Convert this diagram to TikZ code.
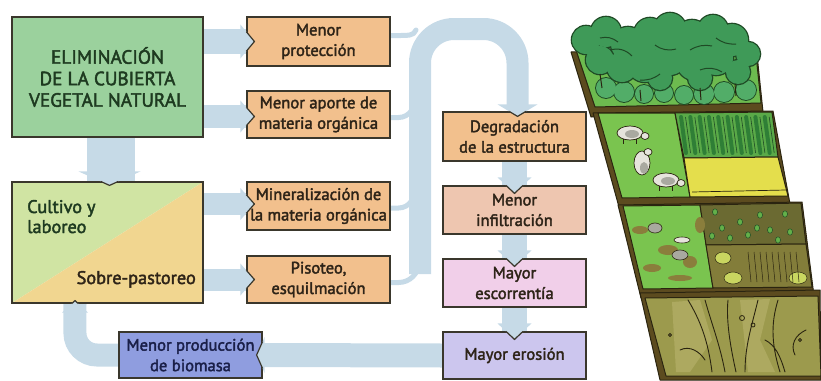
\documentclass[tikz,border=0pt]{standalone}
\usepackage{fontspec}
\setmainfont{PT Sans}[FakeBold=2.2]
\usetikzlibrary{calc}
\pgfdeclarelayer{bands}
\pgfsetlayers{bands,main}

\definecolor{arrowc}{HTML}{C6DAE7}
\definecolor{boxline}{HTML}{3A372C}
\definecolor{elimg}{HTML}{9BD19D}
\definecolor{orng}{HTML}{F2C08D}
\definecolor{cultg}{HTML}{D0E4A3}
\definecolor{culty}{HTML}{F1D690}
\definecolor{infilc}{HTML}{EEC6B0}
\definecolor{escorc}{HTML}{F1CFE9}
\definecolor{erosc}{HTML}{CCC6EE}
\definecolor{biomc}{HTML}{8F9DDF}
\definecolor{txtg}{HTML}{1E3A20}
\definecolor{txtb}{HTML}{2E2418}
\definecolor{txtn}{HTML}{1A1F48}
% landscape colours
\definecolor{soil}{HTML}{5C4B1F}
\definecolor{ink}{HTML}{2A2410}
\definecolor{forestfloor}{HTML}{6DBB4F}
\definecolor{treefill}{HTML}{3F9A58}
\definecolor{treelight}{HTML}{52AD68}
\definecolor{treeline}{HTML}{1F4A25}
\definecolor{pasture}{HTML}{7AC44F}
\definecolor{croprow}{HTML}{2F7F36}
\definecolor{cropbase}{HTML}{5AAA48}
\definecolor{wheat}{HTML}{E4DE4C}
\definecolor{patch}{HTML}{8A7E3C}
\definecolor{darkplot}{HTML}{6B6A32}
\definecolor{dots}{HTML}{63B04A}
\definecolor{dryplot}{HTML}{837D3A}
\definecolor{tuft}{HTML}{C9D660}
\definecolor{eroded}{HTML}{9C9A4D}
\definecolor{erodedlight}{HTML}{ADA960}
\definecolor{animal}{HTML}{E6E4DC}
\definecolor{animalgrey}{HTML}{A9A9A0}

% arrow heads that notch into a box edge
\newcommand{\headdown}[5]{% anchor, xshift, half width, gap, depth
  \pgfmathsetmacro{\hdc}{#3*#5/(#4+#5)}
  \fill[arrowc] ($(#1)+(#2-#3,-#4)$) -- ($(#1)+(#2+#3,-#4)$) -- ($(#1)+(#2,#5)$) -- cycle;
  \draw[notchline] ($(#1)+(#2-\hdc,0)$) -- ($(#1)+(#2,#5)$) -- ($(#1)+(#2+\hdc,0)$);
}
\newcommand{\headup}[5]{%
  \pgfmathsetmacro{\hdc}{#3*#5/(#4+#5)}
  \fill[arrowc] ($(#1)+(#2-#3,#4)$) -- ($(#1)+(#2+#3,#4)$) -- ($(#1)+(#2,-#5)$) -- cycle;
  \draw[notchline] ($(#1)+(#2-\hdc,0)$) -- ($(#1)+(#2,-#5)$) -- ($(#1)+(#2+\hdc,0)$);
}
\newcommand{\headright}[5]{% anchor, yshift, half height, gap, depth
  \pgfmathsetmacro{\hdc}{#3*#5/(#4+#5)}
  \fill[arrowc] ($(#1)+(-#4,#2-#3)$) -- ($(#1)+(-#4,#2+#3)$) -- ($(#1)+(#5,#2)$) -- cycle;
  \draw[notchline] ($(#1)+(0,#2-\hdc)$) -- ($(#1)+(#5,#2)$) -- ($(#1)+(0,#2+\hdc)$);
}
\newcommand{\headleft}[5]{%
  \pgfmathsetmacro{\hdc}{#3*#5/(#4+#5)}
  \fill[arrowc] ($(#1)+(#4,#2-#3)$) -- ($(#1)+(#4,#2+#3)$) -- ($(#1)+(-#5,#2)$) -- cycle;
  \draw[notchline] ($(#1)+(0,#2-\hdc)$) -- ($(#1)+(-#5,#2)$) -- ($(#1)+(0,#2+\hdc)$);
}

\begin{document}
\begin{tikzpicture}[x=1pt,y=-1pt,
  box/.style={draw=boxline, line width=1.2pt, inner sep=0pt, align=center,
    text=txtb, font=\fontsize{16.6}{20.5}\selectfont},
  band/.style={draw=arrowc, line width=#1},
  notchline/.style={draw=boxline, line width=1.2pt, line join=miter},
  thinband/.style={draw=arrowc, line width=5pt, line cap=round},
  outline/.style={draw=ink, line width=1pt, line join=round}]

\path[use as bounding box] (0,0) rectangle (821,380);

% ---------------- boxes ----------------
\node[box, fill=elimg, text=txtg, minimum width=191pt, minimum height=120pt,
      font=\fontsize{19.2}{21.5}\selectfont] (elim) at (107.5,77)
      {ELIMINACIÓN\\DE LA CUBIERTA\\VEGETAL NATURAL};

\fill[cultg] (12,182) -- (203,182) -- (12,303) -- cycle;
\fill[culty] (203,182) -- (203,303) -- (12,303) -- cycle;
\node[box, minimum width=191pt, minimum height=121pt] (cult) at (107.5,242.5) {};
\node[anchor=base west, text=txtg, inner sep=0pt,
      font=\fontsize{18.3}{20}\selectfont] (cultA) at (27,213) {Cultivo y};
\node[anchor=base west, text=txtg, inner sep=0pt,
      font=\fontsize{18.3}{20}\selectfont] (cultB) at (27,233) {laboreo};
\node[anchor=base east, text=txtb, inner sep=0pt,
      font=\fontsize{18.3}{20}\selectfont] (cultC) at (196,284) {Sobre-pastoreo};

\node[box, fill=orng, minimum width=143pt, minimum height=49pt] (prot) at (318.5,41.5) {Menor\\protección};
\node[box, fill=orng, minimum width=143pt, minimum height=47pt] (aporte) at (318.5,114.5) {Menor aporte de\\materia orgánica};
\node[box, fill=orng, minimum width=143pt, minimum height=48pt] (miner) at (318.5,206) {Mineralización de\\la materia orgánica};
\node[box, fill=orng, minimum width=143pt, minimum height=47pt] (piso) at (318.5,279.5) {Pisoteo,\\esquilmación};

\node[box, fill=orng, minimum width=143pt, minimum height=49pt] (degr) at (514.5,136.5) {Degradación\\de la estructura};
\node[box, fill=infilc, minimum width=143pt, minimum height=48pt] (infil) at (514.5,210) {Menor\\infiltración};
\node[box, fill=escorc, minimum width=143pt, minimum height=48pt] (escor) at (514.5,283) {Mayor\\escorrentía};
\node[box, fill=erosc, minimum width=143pt, minimum height=47pt] (eros) at (514.5,355.5) {Mayor erosión};
\node[box, fill=biomc, text=txtn, minimum width=143pt, minimum height=46pt] (biom) at (190.5,355) {Menor producción\\de biomasa};

% routing points of the broad arrows
\coordinate (retcorner) at ($(biom.west)+(-43.5,0)$);
\coordinate (retend) at ($(cult.south)+(-32.5,0)$);
\coordinate (loopfoot) at (420,274);
\coordinate (looptop) at (420,29);
\coordinate (loopdrop) at ($(degr.north)+(3,-6)$);

% ---------------- broad arrows ----------------
\begin{pgfonlayer}{bands}
  \draw[band=25pt] (elim.east |- prot.west) -- (prot.west);
  \draw[band=23pt] ($(elim.east |- aporte.west)+(0,2)$) -- ($(aporte.west)+(0,2)$);
  \draw[band=22pt] ($(cult.east |- miner.west)+(0,-2)$) -- ($(miner.west)+(0,-2)$);
  \draw[band=22pt] (cult.east |- piso.west) -- (piso.west);
  \draw[band=48pt] ($(elim.south)+(3,0)$) -- ($(cult.north)+(3,0)$);
  \draw[band=25pt] (degr.south) -- (infil.north);
  \draw[band=25pt] (infil.south) -- (escor.north);
  \draw[band=25pt] (escor.south) -- (eros.north);
  \draw[band=24pt] (eros.west) -- (biom.east);
  \draw[band=23pt, rounded corners=22pt] (biom.west) -- (retcorner) -- (retend);
  % collecting loop towards the soil structure
  \draw[band=22pt, rounded corners=34pt] (loopfoot) -- (looptop) -- (loopdrop |- looptop) -- (loopdrop);
  \draw[thinband] ($(prot.east)+(0,-6)$) -- ++(10,0) to[out=0,in=-110] (416,30);
  \draw[thinband] ($(aporte.east)+(0,3)$) -- ++(8,0) to[out=0,in=-90] (416,96);
  \draw[thinband] ($(miner.east)+(0,2)$) -- ++(8,0) to[out=0,in=-90] (416,186);
  \draw[thinband] ($(piso.east)+(0,3)$) -- ++(8,0) to[out=0,in=-90] (419,262);
\end{pgfonlayer}

% heads notching into the boxes
\headright{prot.west}{0}{17}{6}{8}
\headright{aporte.west}{2}{16}{6}{8}
\headright{miner.west}{-2}{16}{6}{8}
\headright{piso.west}{0}{16}{6}{8}
\headdown{cult.north}{2}{31}{10}{4}
\headdown{degr.north}{3}{20}{7}{5}
\headdown{infil.north}{0}{17}{8}{8}
\headdown{escor.north}{0}{17}{8}{8}
\headdown{eros.north}{0}{17}{8}{8}
\headleft{biom.east}{0}{18}{2}{6}
\headup{cult.south}{-32.5}{13}{9}{3}

% ---------------- terraced hillside ----------------
% terrace 1: forest
\filldraw[outline, fill=soil] (571,52) -- (756,45) -- (763,112) -- (591,117) -- cycle;
\filldraw[outline, fill=forestfloor] (576,50) -- (755,45) -- (761,103) -- (595,107) -- cycle;
\foreach \x/\y/\r in {606/88/10,624/92/10,644/94/9,664/93/9,684/95/9,704/94/10,724/92/10,746/90/10}
  \draw[treeline, line width=1.8pt] (\x,\y) circle (\r pt);
\foreach \x/\y/\r in {606/88/10,624/92/10,644/94/9,664/93/9,684/95/9,704/94/10,724/92/10,746/90/10}
  \fill[treelight] (\x,\y) circle (\r pt);
\foreach \x/\y/\r in {586/40/14,606/32/15,628/44/17,650/34/16,670/29/16,692/37/17,713/30/15,732/40/16,
  748/54/12,600/60/14,622/67/15,645/64/18,670/58/17,694/63/17,716/58/17,738/72/12,660/78/12,700/78/12,
  680/45/16,635/52/14}
  \draw[treeline, line width=2.6pt] (\x,\y) circle (\r pt);
\foreach \x/\y/\r in {586/40/14,606/32/15,628/44/17,650/34/16,670/29/16,692/37/17,713/30/15,732/40/16,
  748/54/12,600/60/14,622/67/15,645/64/18,670/58/17,694/63/17,716/58/17,738/72/12,660/78/12,700/78/12,
  680/45/16,635/52/14}
  \fill[treefill] (\x,\y) circle (\r pt);
\draw[treeline, line width=1pt] (610,50) to[bend left=30] (632,56) (655,45) to[bend right=25] (676,49)
  (690,50) to[bend left=20] (712,46) (640,80) to[bend right=20] (660,74) (700,70) to[bend left=25] (722,72)
  (600,38) to[bend left=25] (618,42) (716,38) to[bend right=20] (736,44);
\draw[ink, line width=1pt] (600,74) -- (602,88) (640,90) -- (641,101) (700,88) -- (701,100) (735,84) -- (736,96);

% terrace 2: pasture and fields
\filldraw[outline, fill=soil] (593,113) -- (773,111) -- (790,204) -- (619,207) -- cycle;
\filldraw[outline, fill=pasture] (598,113) -- (675,113) -- (690,197) -- (622,198) -- cycle;
\filldraw[outline, fill=cropbase] (675,113) -- (772,112) -- (778,157) -- (684,158) -- cycle;
\filldraw[outline, fill=wheat] (684,158) -- (778,157) -- (788,196) -- (690,197) -- cycle;
\foreach \i in {0,...,9}
  \draw[croprow, line width=4pt, line cap=round] (681+9.3*\i,117) -- (686+9.3*\i,153);
\foreach \i in {0,...,9}
  \draw[treeline, line width=0.6pt] (685.5+9.3*\i,117) -- (690.5+9.3*\i,153);
\draw[ink, line width=0.7pt] (692,192) -- (786,190);
% cattle
\foreach \x/\y in {630/133,666/180}{
  \filldraw[outline, line width=0.7pt, fill=animal] (\x,\y) ellipse (13pt and 7pt);
  \filldraw[outline, line width=0.7pt, fill=animal] (\x+15,\y+3) ellipse (4pt and 3.5pt);
  \draw[ink, line width=0.7pt] (\x-7,\y+6) -- (\x-7,\y+11) (\x+6,\y+6) -- (\x+6,\y+11);
  \fill[animalgrey] (\x+2,\y+1) ellipse (7pt and 4pt);
}
\filldraw[outline, line width=0.7pt, fill=animal] (642,163) ellipse (8pt and 12pt);
\filldraw[outline, line width=0.7pt, fill=animal] (648,152) ellipse (4pt and 3.5pt);
\fill[animalgrey] (644,168) ellipse (4pt and 6pt);

% terrace 3: degraded pasture and ploughed plots
\filldraw[outline, fill=soil] (618,205) -- (802,202) -- (814,296) -- (641,298) -- cycle;
\filldraw[outline, fill=pasture] (623,206) -- (700,205) -- (713,288) -- (643,289) -- cycle;
\filldraw[outline, fill=darkplot] (700,205) -- (801,203) -- (806,244) -- (706,245) -- cycle;
\filldraw[outline, fill=dryplot] (706,245) -- (806,244) -- (812,287) -- (713,288) -- cycle;
\foreach \x/\y/\a/\b in {640/230/8/4,668/250/10/5,652/268/9/4,690/262/7/6,680/278/12/3,700/225/5/8}
  \fill[patch] (\x,\y) ellipse (\a pt and \b pt);
\foreach \x/\y in {715/212,722/228,740/222,748/235,760/215,770/230,785/214,790/232,730/238,778/240,757/228,712/236}
  \filldraw[draw=treeline, line width=0.5pt, fill=dots] (\x,\y) ellipse (2.5pt and 3.2pt);
\foreach \x/\y/\a in {723/258/8,733/278/9,798/278/9}
  \filldraw[draw=ink, line width=0.5pt, fill=tuft] (\x,\y) ellipse (\a pt and 6pt);
\foreach \i in {0,...,8}
  \draw[ink, line width=0.5pt] (748+6*\i,252) -- (751+6*\i,282);
\filldraw[outline, line width=0.6pt, fill=animalgrey] (655,228) ellipse (7pt and 5pt);
\filldraw[outline, line width=0.6pt, fill=animal] (682,240) ellipse (8pt and 3pt);
\filldraw[outline, line width=0.6pt, fill=animalgrey] (680,255) ellipse (8pt and 5pt);

% terrace 4: eroded ground
\filldraw[outline, fill=soil] (640,293) -- (820,290) -- (821,380) -- (660,380) -- cycle;
\filldraw[outline, fill=eroded] (645,298) -- (818,296) -- (821,376) -- (666,376) -- cycle;
\fill[erodedlight] (672,302) -- (700,300) -- (712,340) -- (690,372) -- (676,372) -- cycle;
\fill[erodedlight] (740,300) -- (770,299) -- (760,340) -- (775,372) -- (748,372) -- cycle;
\draw[ink, line width=0.9pt, line cap=round]
  (688,300) .. controls (700,320) and (708,340) .. (712,372)
  (705,300) .. controls (712,325) and (720,345) .. (725,372)
  (728,300) .. controls (726,320) and (730,345) .. (736,372)
  (758,300) .. controls (752,325) and (745,345) .. (745,372)
  (778,300) .. controls (772,320) and (770,340) .. (780,372)
  (806,330) .. controls (795,335) and (790,345) .. (795,355)
  (680,350) .. controls (690,345) and (700,352) .. (705,360)
  (765,340) .. controls (775,345) and (780,355) .. (785,372);
\draw[ink, line width=0.8pt] (742,318) circle (2.5pt) (753,325) circle (2pt) (670,335) circle (1.5pt) (800,340) circle (1.5pt);
\end{tikzpicture}
\end{document}
